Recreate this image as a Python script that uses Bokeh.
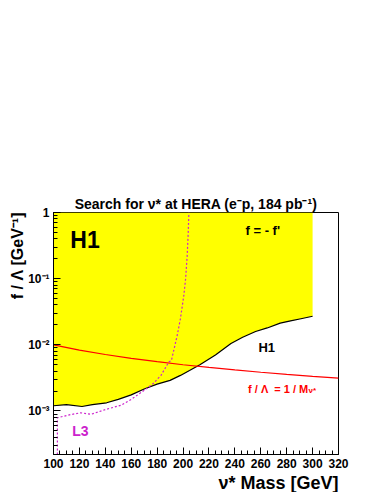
from bokeh.plotting import figure
from bokeh.models import Range1d, SingleIntervalTicker, LogTicker, CustomJSTickFormatter, Title
from bokeh.core.properties import value
from bokeh.embed import file_html
from bokeh.resources import INLINE

# ---- data ----
h1_mass = [100, 110, 122, 130, 141, 150, 160, 170, 180, 190, 198, 205, 213, 225, 237, 246, 256, 265, 275, 283, 291, 300]
h1_limit = [1.2e-3, 1.25e-3, 1.17e-3, 1.25e-3, 1.33e-3, 1.5e-3, 1.75e-3, 2.15e-3, 2.55e-3, 2.9e-3, 3.45e-3,
            4.1e-3, 5.0e-3, 7.0e-3, 1.05e-2, 1.3e-2, 1.59e-2, 1.8e-2, 2.13e-2, 2.3e-2, 2.48e-2, 2.7e-2]
l3_mass = [103, 103, 113, 121, 129, 140, 152, 160, 170, 177, 183, 189, 191, 193, 195.5, 198, 200.6, 202, 203.2, 204, 204.5]
l3_limit = [2.2e-4, 7.9e-4, 8.8e-4, 9.4e-4, 8.9e-4, 1.05e-3, 1.22e-3, 1.5e-3, 2.05e-3, 2.6e-3, 3.46e-3,
            5.5e-3, 5.8e-3, 8.5e-3, 1.39e-2, 2.5e-2, 5.57e-2, 0.1, 0.224, 0.5, 1.0]
ref_mass = [100, 120, 140, 160, 180, 200, 220, 240, 260, 280, 300, 320]
ref_limit = [0.01, 0.00833, 0.00714, 0.00625, 0.00556, 0.005, 0.00455, 0.00417, 0.00385, 0.00357, 0.00333, 0.00313]
y_tick_exps = [-3, -2, -1, 0]
y_tick_labels = ["10⁻³", "10⁻²", "10⁻¹", "1"]

FONT = "Liberation Sans"

p = figure(frame_width=285, frame_height=242, x_axis_type="linear", y_axis_type="log",
           x_range=Range1d(100, 320), y_range=Range1d(2.2e-4, 1.0),
           output_backend="svg", toolbar_location=None,
           min_border_left=53, min_border_top=212, min_border_right=30, min_border_bottom=32)
p.background_fill_color = "white"
p.border_fill_color = "white"
p.outline_line_color = "black"
p.outline_line_width = 1
p.grid.visible = False

p.title.text = "Search for ν* at HERA (e⁻p, 184 pb⁻¹)"
p.title.align = "center"
p.title.text_font = FONT
p.title.text_font_size = "14px"
p.title.text_font_style = "bold"
p.title.text_color = "black"
p.title.standoff = 2

# fill above H1 limit
p.varea(x=h1_mass, y1=h1_limit, y2=[1.0] * len(h1_mass), fill_color="#ffff00")
p.line(x=h1_mass, y=h1_limit, line_color="black", line_width=1.2)
p.line(x=ref_mass, y=ref_limit, line_color="#ff0000", line_width=1.2)
p.line(x=l3_mass, y=l3_limit, line_color="#cc22cc", line_width=1.2, line_dash="2 2")

# axes
xa = p.xaxis[0]
xa.ticker = SingleIntervalTicker(interval=20, num_minor_ticks=4)
ya = p.yaxis[0]
ya.ticker = LogTicker(num_minor_ticks=10)
ya.formatter = CustomJSTickFormatter(args=dict(exps=y_tick_exps, labels=y_tick_labels), code="""
const e = Math.round(Math.log10(tick));
const i = exps.indexOf(e);
return i >= 0 ? labels[i] : "";
""")
for ax in (xa, ya):
    ax.major_tick_in = 7
    ax.major_tick_out = 0
    ax.minor_tick_in = 4
    ax.minor_tick_out = 0
    ax.axis_line_color = "black"
    ax.major_label_text_font = FONT
    ax.major_label_text_font_style = "bold"
    ax.major_label_text_font_size = "12px"
    ax.major_label_text_color = "black"
xa.major_label_standoff = 4
ya.major_label_standoff = 4

p.add_layout(Title(text="ν* Mass [GeV]", align="right", text_font=FONT, text_font_size="18px",
                   text_font_style="bold", text_color="black", standoff=0), "below")
p.add_layout(Title(text="f / Λ [GeV⁻¹]", align="right", text_font=FONT, text_font_size="16px",
                   text_font_style="bold", text_color="black", standoff=0), "left")

# text labels
p.text(x=[113.0], y=[0.378], text=["H1"], text_font=value(FONT), text_font_size="23px",
       text_font_style="bold", text_color="black", text_baseline="alphabetic")
p.text(x=[248.2], y=[0.526], text=["f = - f'"], text_font=value(FONT), text_font_size="13px",
       text_font_style="bold", text_color="black", text_baseline="alphabetic")
p.text(x=[258.2], y=[0.0091], text=["H1"], text_font=value(FONT), text_font_size="13px",
       text_font_style="bold", text_color="black", text_baseline="alphabetic")
p.text(x=[250.2], y=[0.00212], text=["f / Λ\u00a0\u00a0= 1 / M"], text_font=value(FONT), text_font_size="11px",
       text_font_style="bold", text_color="#ff0000", text_baseline="alphabetic")
p.text(x=[296.8], y=[0.00201], text=["ν*"], text_font=value(FONT), text_font_size="8px",
       text_font_style="bold", text_color="#ff0000", text_baseline="alphabetic")
p.text(x=[114.4], y=[4.92e-4], text=["L3"], text_font=value(FONT), text_font_size="14px",
       text_font_style="bold", text_color="#cc22cc", text_baseline="alphabetic")

open("out.html", "w").write(file_html(p, INLINE))
